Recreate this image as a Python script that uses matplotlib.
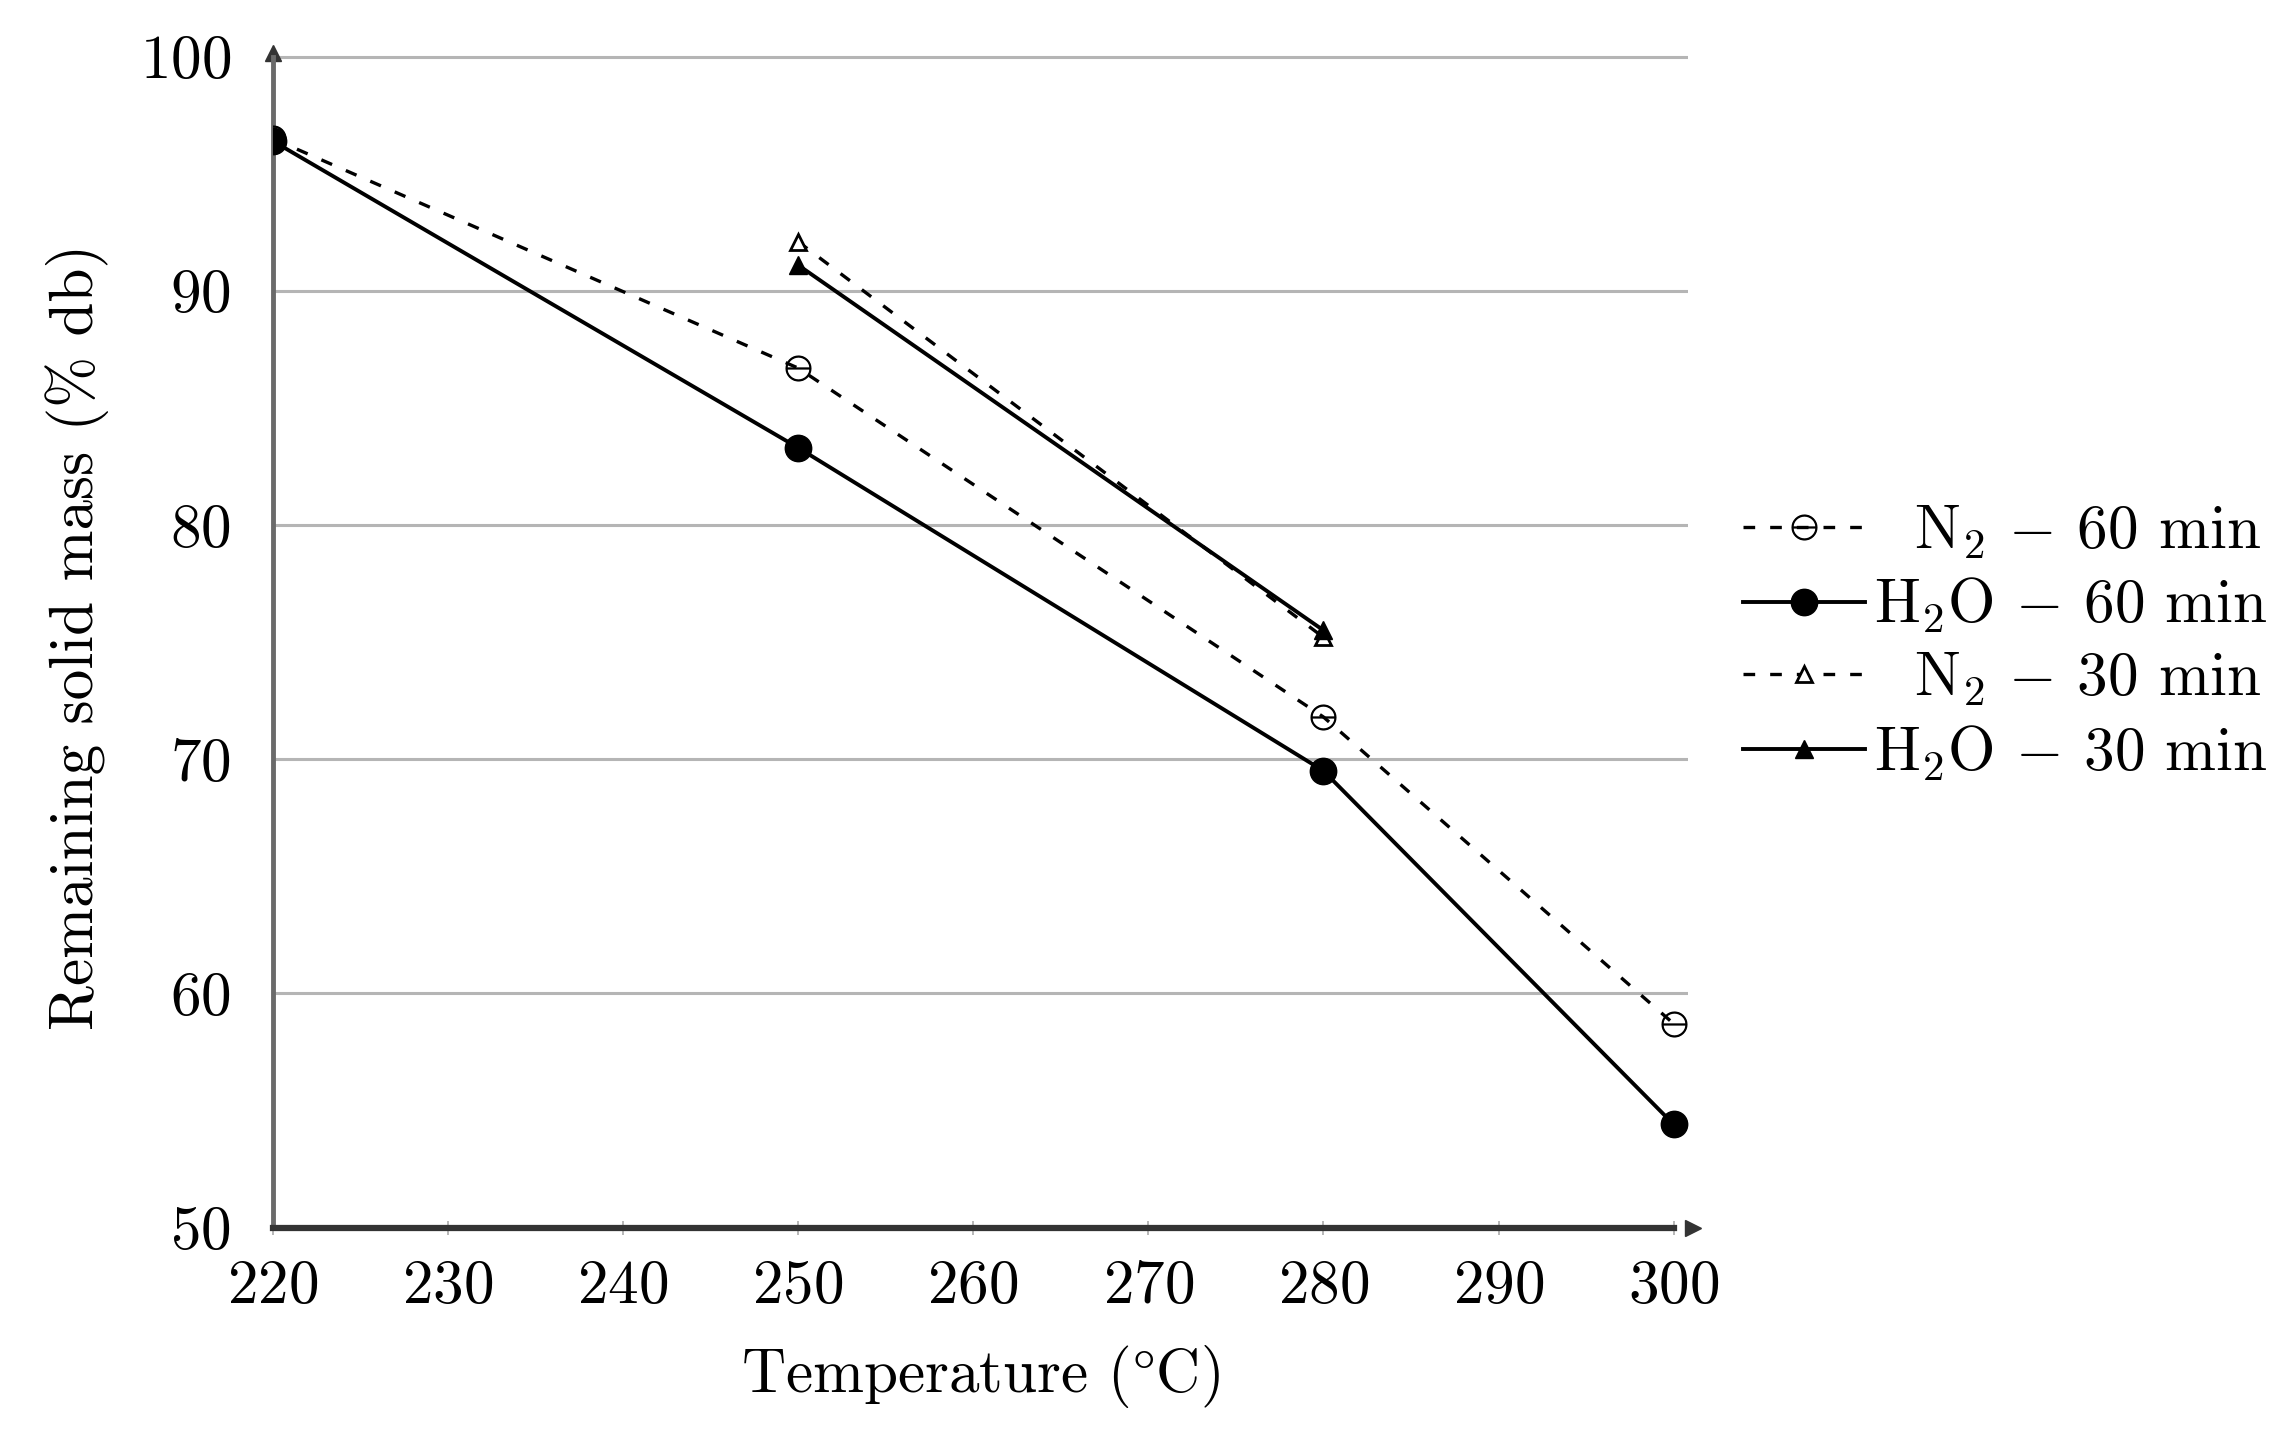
import matplotlib
matplotlib.use("Agg")
import matplotlib.pyplot as plt

# data
temp_60 = [220, 250, 280, 300]
n2_60 = [96.5, 86.7, 71.8, 58.7]
h2o_60 = [96.4, 83.3, 69.5, 54.4]
temp_30 = [250, 280]
n2_30 = [92.1, 75.2]
h2o_30 = [91.1, 75.5]

x_ticks = [220, 230, 240, 250, 260, 270, 280, 290, 300]
y_ticks = [50, 60, 70, 80, 90, 100]

labels = [
    "  N$_2$ $-$ 60 min",
    "H$_2$O $-$ 60 min",
    "  N$_2$ $-$ 30 min",
    "H$_2$O $-$ 30 min",
]

plt.rcParams["font.family"] = ["cmr10", "DejaVu Serif"]
plt.rcParams["mathtext.fontset"] = "cm"
plt.rcParams["axes.formatter.use_mathtext"] = True

FS = 44

fig = plt.figure(figsize=(22.9, 14.29), dpi=100)
ax = fig.add_axes([0.119, 0.141, 0.618, 0.826])

for y in y_ticks[1:]:
    ax.axhline(y, color="#b5b5b5", linewidth=2.2, zorder=0)

ax.plot(temp_60, n2_60, color="black", linewidth=2.4, dashes=(3.5, 4.5),
        marker=r"$\ominus$", markersize=18, markeredgewidth=0.8,
        label=labels[0], zorder=3)
ax.plot(temp_60, h2o_60, color="black", linewidth=2.8,
        marker="o", markersize=19, label=labels[1], zorder=4)
ax.plot(temp_30, n2_30, color="black", linewidth=2.4, dashes=(3.5, 4.5),
        marker="^", markersize=11, markerfacecolor="white", markeredgewidth=2,
        label=labels[2], zorder=3)
ax.plot(temp_30, h2o_30, color="black", linewidth=2.8,
        marker="^", markersize=13, label=labels[3], zorder=4)

ax.set_xlim(220, 300.8)
ax.set_ylim(50, 100.4)
ax.set_xticks(x_ticks)
ax.set_yticks(y_ticks)

for side in ["top", "right"]:
    ax.spines[side].set_visible(False)
ax.spines["left"].set_color("#6a6a6a")
ax.spines["left"].set_linewidth(3.5)
ax.spines["bottom"].set_color("#333333")
ax.spines["bottom"].set_linewidth(4.5)
ax.spines["left"].set_bounds(50, 100)
ax.spines["bottom"].set_bounds(220, 300)

# arrow heads at the axis ends
ax.plot([1.004], [0], marker=">", color="#333333", markersize=12,
        transform=ax.transAxes, clip_on=False)
ax.plot([0], [0.995], marker="^", color="#333333", markersize=11,
        transform=ax.transAxes, clip_on=False)

ax.tick_params(axis="x", direction="inout", length=10, width=1.2,
               color="#aaaaaa", labelsize=FS, pad=18)
ax.tick_params(axis="y", length=0, labelsize=FS, pad=30)

ax.set_xlabel(r"Temperature ($\degree$C)", fontsize=FS, labelpad=20)
ax.set_ylabel("Remaining solid mass (% db)", fontsize=FS, labelpad=22)

ax.legend(loc="center left", bbox_to_anchor=(0.737, 0.55),
          bbox_transform=fig.transFigure, frameon=False,
          fontsize=FS, handlelength=2.0, handletextpad=0.15,
          labelspacing=0.25)

fig.savefig("out.png", dpi=100, facecolor="white")
